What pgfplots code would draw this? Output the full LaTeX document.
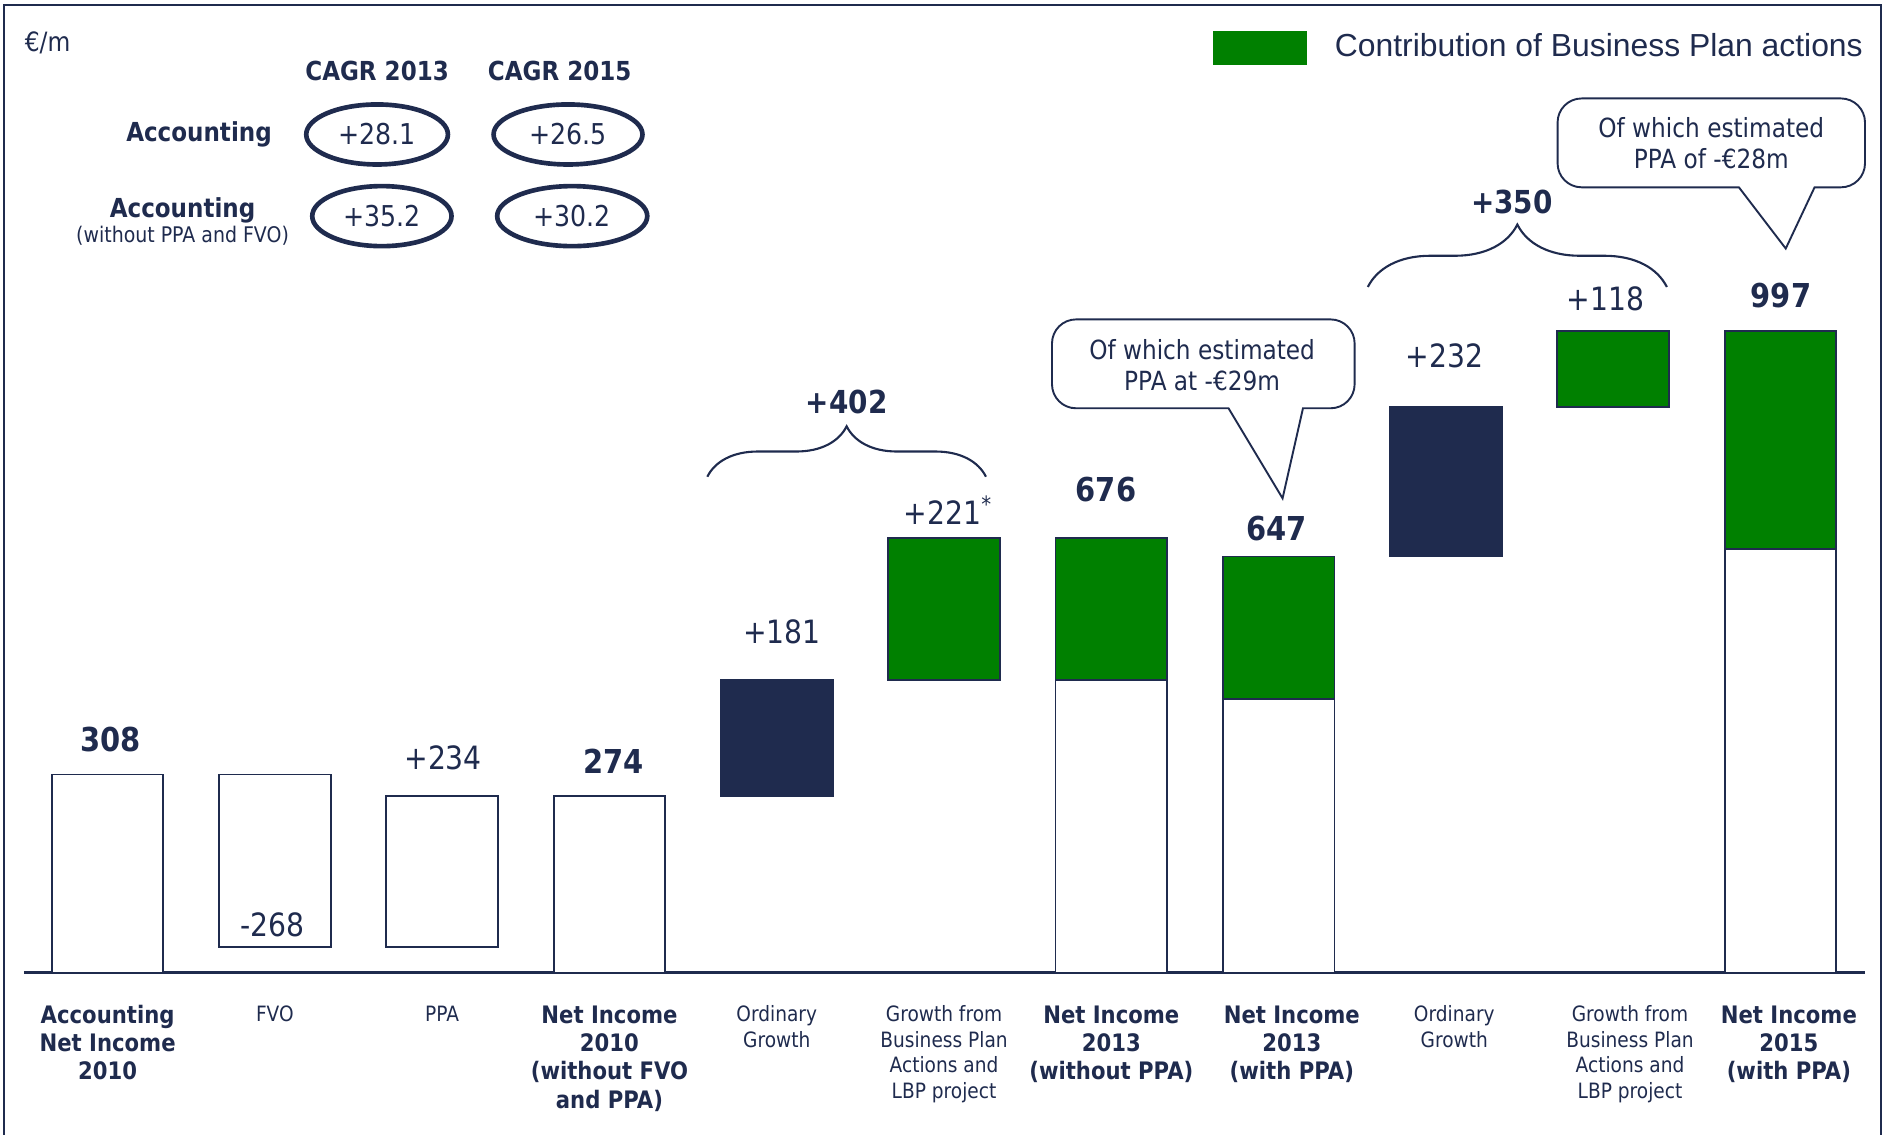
\documentclass[border=0pt]{standalone}
\usepackage{fontspec}
\setmainfont{DejaVu Sans}[FakeStretch=0.88]
\newfontfamily\legfont{Liberation Sans}
\usepackage{pgfplots}
\pgfplotsset{compat=1.18}
\usetikzlibrary{decorations.pathreplacing}
\definecolor{navy}{RGB}{31,43,78}
\definecolor{bpgreen}{RGB}{0,128,0}
\newcommand{\fs}[2]{\fontsize{#1}{#2}\selectfont}
% bold and regular category labels (optional first argument: extra room on the left, to move the label right)
\newcommand{\BL}[2][0cm]{\hspace*{#1}{\bfseries\fs{5.7}{6.7}\begin{tabular}{@{}c@{}}#2\end{tabular}}}
\newcommand{\RL}[2][0cm]{\hspace*{#1}{\fs{5}{6.1}\begin{tabular}{@{}c@{}}#2\end{tabular}}}
\begin{document}
\begin{tikzpicture}
\tikzset{every node/.append style={text=navy}}
\useasboundingbox (0,0) rectangle (15.68,9.45);
\begin{axis}[
  at={(0,0)}, anchor=south west, scale only axis,
  x=1.393cm, y=0.00535cm,
  xmin=-0.6432, xmax=10.613, ymin=-252.3, ymax=1514,
  axis x line*=middle, axis y line=none,
  x axis line style={draw=none},
  hide obscured x ticks=false,
  ytick=\empty,
  xtick={0,...,10}, major tick length=0pt,
  xticklabels={
    {\BL{Accounting\\Net Income\\2010}},
    {\RL{FVO}},
    {\RL{PPA}},
    {\BL{Net Income\\2010\\(without FVO\\and PPA)}},
    {\RL{Ordinary\\Growth}},
    {\RL{Growth from\\Business Plan\\Actions and\\LBP project}},
    {\BL{Net Income\\2013\\(without PPA)}},
    {\BL[0.22cm]{Net Income\\2013\\(with PPA)}},
    {\RL[0.14cm]{Ordinary\\Growth}},
    {\RL[0.28cm]{Growth from\\Business Plan\\Actions and\\LBP project}},
    {\BL[0.14cm]{Net Income\\2015\\(with PPA)}}
  },
  xticklabel style={text=navy, anchor=north, inner sep=0pt, yshift=-0.25cm},
  ybar stacked, bar width=0.93cm,
  clip=false,
  legend style={draw=none, fill=none, at={(rel axis cs:0.6441,0.9566)}, anchor=west,
    inner sep=0pt, outer sep=0pt, column sep=0.23cm,
    nodes={inner sep=0pt, text=navy},
    font=\legfont\fontsize{7.55}{9}\selectfont},
  legend image code/.code={\fill[bpgreen] (0cm,-0.135cm) rectangle (0.77cm,0.135cm);},
]
% invisible base of the floating bars
\addplot[draw=none, fill=none, forget plot] coordinates {(0,0) (1,40) (2,40) (3,0) (4,274) (5,455) (6,0) (7,0) (8,647) (9,879) (10,0)};
% white part
\addplot[fill=white, draw=navy, line width=0.45pt, forget plot] coordinates {(0,308) (1,268) (2,234) (3,274) (4,0) (5,0) (6,455) (7,426) (8,0) (9,0) (10,658)};
% contribution of Business Plan actions
\addplot[fill=bpgreen, draw=navy, line width=0.45pt] coordinates {(0,0) (1,0) (2,0) (3,0) (4,0) (5,221) (6,221) (7,221) (8,0) (9,118) (10,339)};
\addlegendentry{Contribution of Business Plan actions}
% ordinary growth
\addplot[fill=navy, draw=navy, line width=0.45pt, forget plot] coordinates {(0,0) (1,0) (2,0) (3,0) (4,181) (5,0) (6,0) (7,0) (8,232) (9,0) (10,0)};
\draw[navy, line width=0.8pt] (axis cs:-0.50,0) -- (axis cs:10.505,0);
\end{axis}
% frame
\draw[navy, line width=0.5pt] (0.03,0) -- (0.03,9.408) -- (15.663,9.408) -- (15.663,0);
% CAGR block
\node[anchor=west, inner sep=0pt, font=\fs{6.3}{7}] at (0.20,9.09) {€/m};
\node[font=\bfseries\fs{6.2}{7}] at (3.14,8.86) {CAGR 2013};
\node[font=\bfseries\fs{6.2}{7}] at (4.66,8.86) {CAGR 2015};
\node[anchor=east, inner sep=0pt, font=\bfseries\fs{6.2}{7}] at (2.27,8.33) {Accounting};
\node[font=\bfseries\fs{6.2}{7}] at (1.52,7.70) {Accounting};
\node[font=\fs{5.1}{6}] at (1.52,7.49) {(without PPA and FVO)};
\draw[navy, line width=1.1pt] (3.14,8.33) ellipse (0.59 and 0.25);
\draw[navy, line width=1.1pt] (4.73,8.33) ellipse (0.62 and 0.25);
\draw[navy, line width=1.1pt] (3.18,7.65) ellipse (0.58 and 0.25);
\draw[navy, line width=1.1pt] (4.765,7.65) ellipse (0.625 and 0.25);
\node[font=\fs{6.8}{8}] at (3.14,8.33) {+28.1};
\node[font=\fs{6.8}{8}] at (4.73,8.33) {+26.5};
\node[font=\fs{6.8}{8}] at (3.18,7.65) {+35.2};
\node[font=\fs{6.8}{8}] at (4.765,7.65) {+30.2};
% value labels
\node[font=\bfseries\fs{7.8}{9}] at (0.92,3.29) {308};
\node[font=\fs{7.6}{9}] at (2.27,1.75) {-268};
\node[font=\fs{7.6}{9}] at (3.69,3.14) {+234};
\node[font=\bfseries\fs{7.8}{9}] at (5.11,3.11) {274};
\node[font=\fs{7.6}{9}] at (6.51,4.19) {+181};
\node[font=\fs{7.6}{9}] at (7.90,5.20) {+221\textsuperscript{*}};
\node[font=\bfseries\fs{7.8}{9}] at (9.21,5.37) {676};
\node[font=\bfseries\fs{7.8}{9}] at (10.63,5.05) {647};
\node[font=\fs{7.6}{9}] at (12.03,6.49) {+232};
\node[font=\fs{7.6}{9}] at (13.37,6.96) {+118};
\node[font=\bfseries\fs{7.8}{9}] at (14.83,6.99) {997};
% braces
\draw[navy, line width=0.5pt, decorate, decoration={brace, amplitude=0.42cm}] (5.89,5.48) -- (8.21,5.48);
\node[font=\bfseries\fs{7.5}{9}] at (7.05,6.10) {+402};
\draw[navy, line width=0.5pt, decorate, decoration={brace, amplitude=0.52cm}] (11.39,7.06) -- (13.88,7.06);
\node[font=\bfseries\fs{7.5}{9}] at (12.59,7.77) {+350};
% callouts
\draw[navy, line width=0.45pt, fill=white] (10.23,6.05) -- (8.96,6.05) arc[start angle=270, end angle=180, radius=0.2] -- (8.76,6.59) arc[start angle=180, end angle=90, radius=0.2] -- (11.08,6.79) arc[start angle=90, end angle=0, radius=0.2] -- (11.28,6.25) arc[start angle=0, end angle=-90, radius=0.2] -- (10.85,6.05) -- (10.68,5.30) -- cycle;
\node[align=center, font=\fs{6.25}{7.4}] at (10.01,6.41) {Of which estimated\\PPA at -€29m};
\draw[navy, line width=0.45pt, fill=white] (14.48,7.89) -- (13.17,7.89) arc[start angle=270, end angle=180, radius=0.2] -- (12.97,8.43) arc[start angle=180, end angle=90, radius=0.2] -- (15.33,8.63) arc[start angle=90, end angle=0, radius=0.2] -- (15.53,8.09) arc[start angle=0, end angle=-90, radius=0.2] -- (15.11,7.89) -- (14.87,7.38) -- cycle;
\node[align=center, font=\fs{6.25}{7.4}] at (14.25,8.26) {Of which estimated\\PPA of -€28m};
\end{tikzpicture}
\end{document}
